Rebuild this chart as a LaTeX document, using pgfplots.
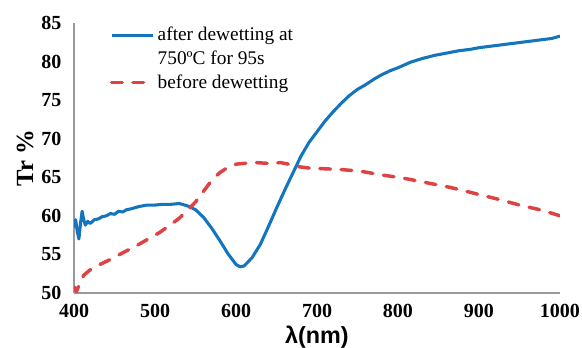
\documentclass[border=0pt]{standalone}
\usepackage{fontspec}
\setmainfont{Liberation Serif}
\newfontfamily\sansfont{Liberation Sans}
\usepackage{pgfplots}
\pgfplotsset{compat=1.18}
\definecolor{cblue}{RGB}{18,117,190}
\definecolor{cred}{RGB}{222,66,66}
\begin{document}
\begin{tikzpicture}
\begin{axis}[
  scale only axis,
  width=364.5pt, height=202.5pt,
  xmin=400, xmax=1000, ymin=50, ymax=85,
  xtick={400,500,...,1000}, ytick={50,55,...,85},
  axis x line=bottom, axis y line=left,
  axis line style={draw=gray!80, line width=0.8pt, -},
  major tick length=0pt,
  /pgf/number format/assume math mode=true,
  /pgf/number format/1000 sep={},
  tick label style={font=\rmfamily\bfseries\fontsize{15}{17}\selectfont},
  xticklabel style={yshift=-5pt},
  yticklabel style={xshift=-6pt},
  xlabel={\sansfont\bfseries\fontsize{17.5}{19}\selectfont λ(nm)},
  ylabel={\rmfamily\bfseries\fontsize{18.5}{20}\selectfont Tr \%},
  xlabel style={yshift=1pt},
  ylabel style={yshift=-1pt},
  clip=true,
  legend style={at={(0.065,1.005)}, anchor=north west, draw=none, fill=none,
    font=\fontsize{14.5}{16}\selectfont, row sep=2pt},
  legend cell align=left,
  legend image code/.code={\draw[#1] (0cm,0cm) -- (1.1cm,0cm);},
]
\addplot[cblue, line width=2.3pt, line join=round] coordinates {
(400,58.5)(402,59.5)(404,58)(406,57)(408,59)(410,60.6)(412,59.5)(414,58.8)(417,59.3)(420,59.0)(425,59.5)(430,59.6)(435,59.9)(440,60.0)(445,60.3)(450,60.2)(455,60.6)(460,60.5)(465,60.8)(470,60.9)(480,61.2)(490,61.4)(500,61.4)(510,61.5)(520,61.5)(530,61.6)(540,61.3)(550,60.8)(560,59.8)(570,58.4)(580,56.8)(590,55.1)(600,53.7)(605,53.4)(610,53.5)(620,54.6)(630,56.3)(640,58.6)(650,61.0)(660,63.3)(670,65.5)(680,67.7)(690,69.5)(700,70.9)(710,72.3)(720,73.5)(730,74.6)(740,75.6)(750,76.4)(760,77.0)(770,77.7)(780,78.3)(790,78.8)(800,79.2)(815,79.9)(830,80.4)(845,80.8)(860,81.1)(875,81.4)(890,81.6)(900,81.8)(915,82.0)(930,82.2)(945,82.4)(960,82.6)(975,82.8)(990,83.0)(1000,83.3)
};
\addlegendentry{after dewetting at}
\addlegendimage{empty legend}
\addlegendentry{750ºC for 95s}
\addplot[cred, line width=2.6pt, line cap=round, dash pattern=on 8pt off 8pt] coordinates {
(400,50.8)(403,50.2)(407,51.2)(412,52.3)(420,53.0)(430,53.6)(444,54.3)(460,55.2)(475,56.0)(490,56.9)(505,57.8)(520,58.9)(530,59.7)(540,60.7)(550,61.8)(560,63.2)(570,64.6)(580,65.6)(590,66.3)(600,66.7)(610,66.8)(625,66.9)(640,66.8)(655,66.9)(665,66.7)(675,66.4)(690,66.2)(710,66.1)(730,66.0)(753,65.8)(780,65.3)(806,64.9)(835,64.3)(864,63.7)(895,62.9)(922,62.2)(950,61.4)(979,60.7)(1000,60.0)
};
\addlegendentry{before dewetting}
\coordinate (bl) at (rel axis cs:-0.1523,-0.2037);
\coordinate (tr) at (rel axis cs:1.0453,1.0852);
\end{axis}
\pgfresetboundingbox
\path[use as bounding box] (bl) rectangle (tr);
\end{tikzpicture}
\end{document}
